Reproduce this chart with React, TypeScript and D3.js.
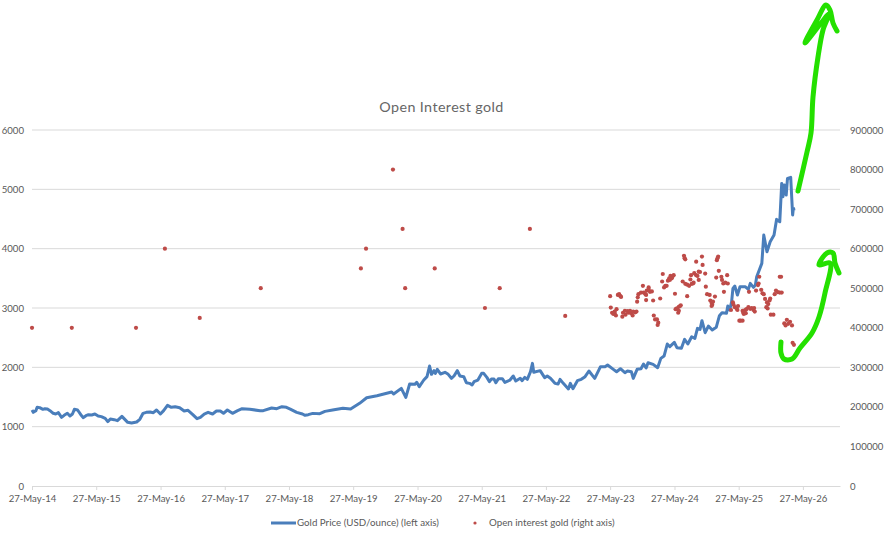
import * as d3 from 'd3';
import { useEffect, useRef } from 'react';

const WIDTH = 885;
const HEIGHT = 534;
const MARGIN = { top: 130, right: 45, bottom: 48, left: 32 };
const FONT = 'Lato, sans-serif';
const TEXT_COLOR = '#595959';
const GRID_COLOR = '#d9d9d9';
const GOLD_COLOR = '#4a7ebb';
const OI_COLOR = '#be4b48';
const SCRIBBLE_COLOR = '#24e000';

// Gold price (decimal year / USD per ounce)
const goldYears = [
  2014.4, 2014.42, 2014.46, 2014.48, 2014.52, 2014.57, 2014.6, 2014.64, 2014.68, 2014.73, 2014.77, 2014.81,
  2014.86, 2014.9, 2014.95, 2014.99, 2015.03, 2015.06, 2015.11, 2015.16, 2015.2, 2015.24, 2015.28, 2015.33,
  2015.38, 2015.43, 2015.48, 2015.54, 2015.58, 2015.62, 2015.68, 2015.73, 2015.8, 2015.83, 2015.89, 2015.95,
  2016.03, 2016.08, 2016.13, 2016.18, 2016.24, 2016.29, 2016.34, 2016.4, 2016.45, 2016.51, 2016.57, 2016.63,
  2016.7, 2016.77, 2016.83, 2016.9, 2016.97, 2017.02, 2017.08, 2017.14, 2017.21, 2017.27, 2017.33, 2017.38,
  2017.44, 2017.52, 2017.6, 2017.67, 2017.79, 2017.95, 2018.0, 2018.13, 2018.21, 2018.29, 2018.36, 2018.42,
  2018.52, 2018.61, 2018.65, 2018.7, 2018.77, 2018.88, 2018.96, 2019.08, 2019.24, 2019.36, 2019.5, 2019.61,
  2019.77, 2020.0, 2020.03, 2020.15, 2020.22, 2020.28, 2020.36, 2020.39, 2020.43, 2020.5, 2020.55, 2020.59,
  2020.62, 2020.66, 2020.68, 2020.71, 2020.76, 2020.83, 2020.88, 2020.93, 2020.97, 2021.02, 2021.06, 2021.12,
  2021.16, 2021.21, 2021.25, 2021.28, 2021.34, 2021.4, 2021.43, 2021.48, 2021.52, 2021.55, 2021.59, 2021.62,
  2021.66, 2021.72, 2021.76, 2021.84, 2021.89, 2021.93, 2022.0, 2022.03, 2022.07, 2022.11, 2022.16, 2022.19,
  2022.21, 2022.31, 2022.38, 2022.42, 2022.47, 2022.54, 2022.59, 2022.62, 2022.67, 2022.75, 2022.78, 2022.82,
  2022.89, 2022.95, 2023.01, 2023.07, 2023.16, 2023.25, 2023.32, 2023.36, 2023.45, 2023.5, 2023.56, 2023.63,
  2023.67, 2023.73, 2023.76, 2023.82, 2023.88, 2023.92, 2023.96, 2023.99, 2024.07, 2024.14, 2024.19, 2024.24,
  2024.29, 2024.33, 2024.4, 2024.44, 2024.51, 2024.56, 2024.61, 2024.67, 2024.72, 2024.76, 2024.8, 2024.83,
  2024.88, 2024.93, 2024.99, 2025.05, 2025.1, 2025.14, 2025.21, 2025.23, 2025.26, 2025.29, 2025.31, 2025.34,
  2025.38, 2025.42, 2025.5, 2025.55, 2025.58, 2025.63, 2025.66, 2025.68, 2025.76, 2025.79, 2025.84, 2025.89,
  2025.95, 2025.99, 2026.04, 2026.07, 2026.09, 2026.11, 2026.14, 2026.16, 2026.21, 2026.24, 2026.25, 2026.28,
];
const goldPrice = [
  1281, 1242, 1270, 1326, 1320, 1292, 1303, 1298, 1270, 1225, 1214, 1236,
  1157, 1191, 1225, 1180, 1213, 1292, 1281, 1202, 1152, 1185, 1202, 1197,
  1213, 1180, 1169, 1140, 1084, 1129, 1118, 1101, 1174, 1140, 1073, 1062,
  1079, 1124, 1225, 1242, 1247, 1236, 1281, 1213, 1270, 1360, 1326, 1337,
  1320, 1264, 1275, 1208, 1135, 1157, 1213, 1241, 1213, 1264, 1264, 1225,
  1281, 1225, 1270, 1303, 1292, 1270, 1270, 1315, 1303, 1337, 1326, 1297,
  1241, 1213, 1191, 1202, 1224, 1219, 1258, 1281, 1309, 1297, 1393, 1488,
  1522, 1584, 1550, 1646, 1494, 1719, 1713, 1747, 1674, 1786, 1843, 2022,
  1882, 1944, 1899, 1966, 1888, 1916, 1882, 1815, 1854, 1944, 1854, 1843,
  1741, 1730, 1702, 1758, 1786, 1899, 1899, 1831, 1758, 1803, 1803, 1741,
  1809, 1809, 1747, 1786, 1854, 1770, 1815, 1775, 1831, 1798, 1927, 2067,
  1916, 1944, 1826, 1854, 1815, 1730, 1719, 1798, 1730, 1635, 1730, 1640,
  1775, 1798, 1843, 1938, 1814, 2011, 2011, 2039, 1966, 1926, 1977, 1910,
  1938, 1926, 1814, 1966, 1977, 2056, 1988, 2078, 2050, 1994, 2151, 2190,
  2393, 2348, 2421, 2331, 2320, 2472, 2393, 2516, 2488, 2657, 2640, 2786,
  2584, 2696, 2629, 2674, 2870, 2921, 2910, 3033, 2966, 3106, 3331, 3370,
  3219, 3359, 3359, 3314, 3415, 3348, 3387, 3528, 3752, 4230, 3949, 4117,
  4230, 4494, 4454, 5100, 4876, 5072, 4904, 5185, 5201, 4567, 4668, 4673,
];

// Open interest, same reading (decimal year / contracts)
const oiYears = [
  2014.4, 2015.02, 2016.02, 2016.47, 2017.01, 2017.96, 2019.52, 2019.6, 2020.02, 2020.17, 2020.21, 2020.67,
  2021.45, 2021.68, 2022.15, 2022.7,
  2023.4, 2023.41, 2023.43, 2023.45, 2023.47, 2023.49, 2023.5, 2023.47, 2023.52, 2023.54, 2023.56, 2023.57,
  2023.59, 2023.6, 2023.63, 2023.64, 2023.67, 2023.69, 2023.71, 2023.73, 2023.75, 2023.76, 2023.79, 2023.81,
  2023.82, 2023.83, 2023.84, 2023.88, 2023.92, 2023.91, 2023.95, 2023.96, 2023.97, 2024.0, 2024.0, 2024.02,
  2024.05, 2023.96, 2024.07, 2024.18, 2024.08, 2024.1, 2024.13, 2024.15, 2024.14, 2024.22, 2024.21, 2024.24,
  2024.26, 2024.28, 2024.3, 2024.33, 2024.34, 2024.37, 2024.39, 2024.36, 2024.32, 2024.41, 2024.42, 2024.44,
  2024.47, 2024.49, 2024.5, 2024.46, 2024.47, 2024.53, 2024.57, 2024.6, 2024.63, 2024.65, 2024.66, 2024.67,
  2024.69, 2024.71, 2024.7, 2024.74, 2024.76, 2024.78, 2024.78, 2024.8, 2024.83, 2024.84, 2024.88, 2024.89,
  2024.74, 2024.6, 2024.55, 2024.56, 2024.57, 2024.91, 2024.95, 2024.96, 2024.98, 2024.99, 2025.0, 2024.98,
  2025.03, 2025.05, 2025.06, 2025.07, 2025.08, 2025.09, 2025.13, 2025.14, 2025.16, 2025.19, 2025.22, 2025.23,
  2025.17, 2025.28, 2025.31, 2025.32, 2025.34, 2025.37, 2025.38, 2025.39, 2025.41, 2025.43, 2025.46, 2025.46,
  2025.48, 2025.47, 2025.5, 2025.52, 2025.55, 2025.58, 2025.6, 2025.63, 2025.65, 2025.64, 2025.51, 2025.56,
  2025.67, 2025.71, 2025.72, 2025.7, 2025.75, 2025.77, 2025.79, 2025.81, 2025.89, 2025.96, 2025.88, 2025.86,
  2025.84, 2025.83, 2025.85, 2025.9, 2025.94, 2025.98, 2026.01, 2026.04, 2026.06, 2026.04, 2026.07, 2026.11,
  2026.13, 2026.15, 2026.17, 2026.2, 2026.23, 2026.24, 2026.26,
];
const oiValues = [
  400000, 400000, 400000, 600000, 425000, 500000, 550000, 600000, 800000, 650000, 500000, 550000,
  450000, 500000, 650000, 430000,
  480000, 451000, 438000, 435000, 437000, 431000, 447000, 441000, 483000, 485000, 480000, 478000,
  428000, 438000, 443000, 433000, 442000, 438000, 443000, 437000, 431000, 441000, 439000, 441000,
  466000, 477000, 485000, 489000, 489000, 506000, 485000, 483000, 494000, 502000, 497000, 491000,
  492000, 470000, 469000, 474000, 431000, 421000, 421000, 413000, 407000, 536000, 517000, 502000,
  506000, 506000, 519000, 521000, 531000, 529000, 533000, 525000, 525000, 486000, 447000, 449000,
  453000, 455000, 457000, 438000, 443000, 517000, 511000, 509000, 506000, 522000, 533000, 511000,
  512000, 538000, 514000, 533000, 531000, 542000, 521000, 541000, 580000, 559000, 537000, 504000,
  567000, 480000, 582000, 576000, 573000, 485000, 483000, 469000, 463000, 458000, 466000, 455000,
  479000, 527000, 571000, 576000, 580000, 544000, 529000, 521000, 512000, 514000, 533000, 512000,
  491000, 445000, 464000, 458000, 452000, 448000, 445000, 455000, 418000, 418000, 418000, 443000,
  435000, 438000, 445000, 447000, 452000, 448000, 450000, 445000, 441000, 450000, 437000, 491000,
  494000, 512000, 529000, 508000, 496000, 487000, 485000, 473000, 474000, 485000, 469000, 460000,
  464000, 452000, 449000, 433000, 433000, 494000, 490000, 529000, 529000, 489000, 489000, 411000,
  406000, 420000, 410000, 415000, 406000, 362000, 357000,
];

const tickYears = d3.range(2014, 2027);
const leftTicks = [0, 1000, 2000, 3000, 4000, 5000, 6000];
const rightTicks = [0, 100000, 200000, 300000, 400000, 500000, 600000, 700000, 800000, 900000];

// Hand drawn green arrows on top of the screenshot (page pixels, not data)
const arrowUpper: [number, number][] = [
  [798, 191], [807, 152], [811, 133], [813, 97], [818, 57], [823, 30], [829, 14],
  [805, 43], [817, 20], [826, 5], [830, 10], [833, 23], [837, 31],
];
const arrowLower: [number, number][] = [
  [781, 342], [781, 353], [784, 359], [792, 359], [800, 348], [812, 333], [819, 317], [825, 293], [830, 263],
  [819, 265], [827, 253], [833, 253], [835, 263], [839, 273],
];

const toDate = (y: number) => new Date(Date.UTC(Math.floor(y), 0, 1) + (y % 1) * 365.25 * 864e5);

export default function App() {
  const xAxisRef = useRef<SVGGElement | null>(null);
  const leftAxisRef = useRef<SVGGElement | null>(null);
  const rightAxisRef = useRef<SVGGElement | null>(null);

  const right = WIDTH - MARGIN.right;
  const bottom = HEIGHT - MARGIN.bottom;

  const xScale = d3
    .scaleUtc()
    .domain([new Date(Date.UTC(2014, 4, 27)), new Date(Date.UTC(2026, 11, 24))])
    .range([MARGIN.left, right]);
  const yLeft = d3.scaleLinear().domain([0, 6000]).range([bottom, MARGIN.top]);
  const yRight = d3.scaleLinear().domain([0, 900000]).range([bottom, MARGIN.top]);

  const goldLine = d3
    .line<number>()
    .x((_, i) => xScale(toDate(goldYears[i])))
    .y((d) => yLeft(d));

  const scribble = d3.line().curve(d3.curveCatmullRom.alpha(0.5));

  // Axes through d3, then restyled to the Excel look
  useEffect(() => {
    const xAxis = d3
      .axisBottom(xScale)
      .tickValues(tickYears.map((y) => new Date(Date.UTC(y, 4, 27))))
      .tickFormat((d) => d3.utcFormat('%d-%b-%y')(d as Date))
      .tickSize(4)
      .tickSizeOuter(0)
      .tickPadding(5);
    const leftAxis = d3
      .axisLeft(yLeft)
      .tickValues(leftTicks)
      .tickFormat(d3.format('d'))
      .tickSize(0)
      .tickPadding(8);
    const rightAxis = d3
      .axisRight(yRight)
      .tickValues(rightTicks)
      .tickFormat(d3.format('d'))
      .tickSize(0)
      .tickPadding(10);

    const gx = d3.select(xAxisRef.current!).call(xAxis as any);
    const gl = d3.select(leftAxisRef.current!).call(leftAxis as any);
    const gr = d3.select(rightAxisRef.current!).call(rightAxis as any);

    gx.selectAll('line').attr('stroke', GRID_COLOR);
    gx.select('.domain').attr('stroke', GRID_COLOR);
    gl.select('.domain').remove();
    gr.select('.domain').remove();
    [gx, gl, gr].forEach((g) => {
      g.attr('font-family', FONT).attr('font-size', 9.6);
      g.selectAll('text').attr('fill', TEXT_COLOR);
    });
  }, []);

  return (
    <svg
      width={WIDTH}
      height={HEIGHT}
      style={{ position: 'absolute', left: 0, top: 0, background: '#fff' }}
    >
      <text
        x={441.5}
        y={112}
        textAnchor="middle"
        fontFamily={FONT}
        fontSize={14.3}
        letterSpacing={0.4}
        fill="#666666"
      >
        Open Interest gold
      </text>

      {leftTicks.slice(1).map((t) => (
        <line key={t} x1={MARGIN.left} x2={right} y1={yLeft(t)} y2={yLeft(t)} stroke={GRID_COLOR} />
      ))}

      <g ref={xAxisRef} transform={`translate(0,${bottom})`} />
      <g ref={leftAxisRef} transform={`translate(${MARGIN.left},0)`} />
      <g ref={rightAxisRef} transform={`translate(${right},0)`} />

      <path
        d={goldLine(goldPrice) ?? ''}
        fill="none"
        stroke={GOLD_COLOR}
        strokeWidth={3}
        strokeLinejoin="round"
      />

      {oiValues.map((v, i) => (
        <circle key={i} cx={xScale(toDate(oiYears[i]))} cy={yRight(v)} r={2.1} fill={OI_COLOR} />
      ))}

      <g fill="none" stroke={SCRIBBLE_COLOR} strokeWidth={5} strokeLinecap="round" strokeLinejoin="round">
        <path d={scribble(arrowUpper) ?? ''} />
        <path d={scribble(arrowLower) ?? ''} />
      </g>

      {/* Legend */}
      <g fontFamily={FONT} fontSize={9.75} fill={TEXT_COLOR}>
        <line x1={271} x2={296} y1={523} y2={523} stroke={GOLD_COLOR} strokeWidth={3} />
        <text x={297} y={526}>Gold Price (USD/ounce) (left axis)</text>
        <circle cx={475} cy={523} r={1.6} fill={OI_COLOR} />
        <text x={489} y={526}>Open interest gold (right axis)</text>
      </g>
    </svg>
  );
}
